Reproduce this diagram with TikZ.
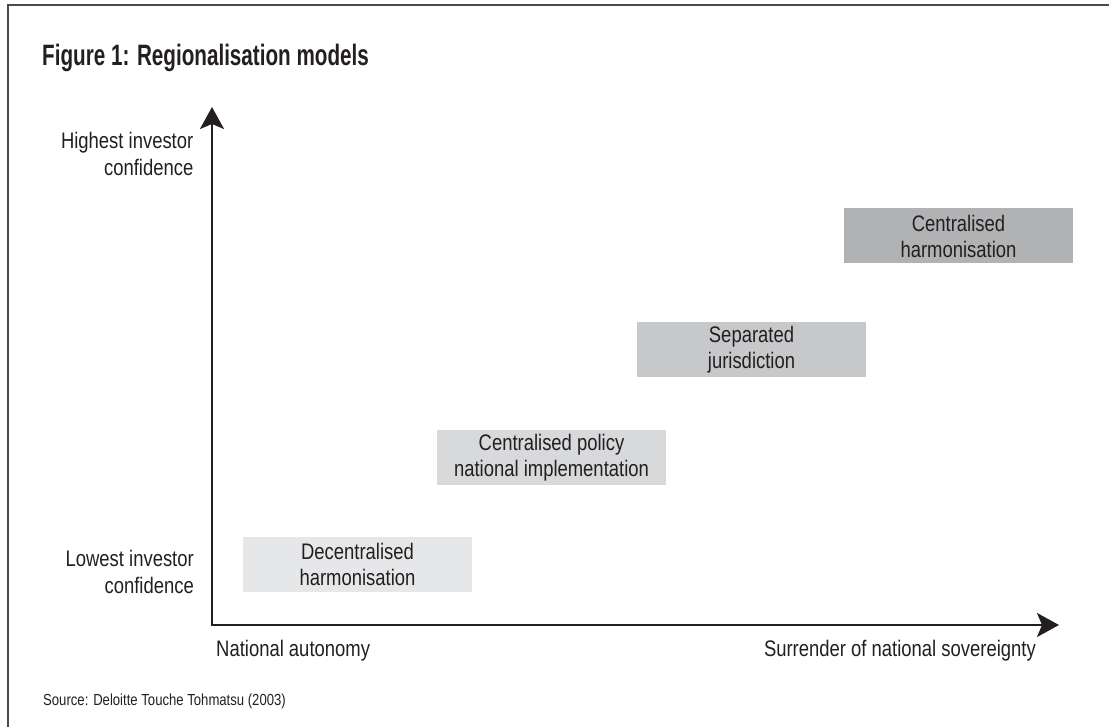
\documentclass[tikz,border=0pt]{standalone}
\usepackage{fontspec}
\setmainfont{Liberation Sans}[FakeStretch=0.82]
\newfontfamily\titlefont{Liberation Sans}[FakeStretch=0.70]
\usetikzlibrary{arrows.meta}
\definecolor{ink}{HTML}{231F20}
\definecolor{rule}{HTML}{4A4A4A}
\definecolor{shadeA}{HTML}{E6E7E8}
\definecolor{shadeB}{HTML}{D8D9DB}
\definecolor{shadeC}{HTML}{C7C8CA}
\definecolor{shadeD}{HTML}{B1B2B4}
\tikzset{
  model/.style={minimum width=229pt, minimum height=55pt, inner sep=0pt,
    align=center, text=ink, font=\fontsize{22.5}{26}\selectfont},
  axislabel/.style={inner sep=0pt, text=ink, font=\fontsize{22.5}{27}\selectfont},
}
\begin{document}
\begin{tikzpicture}[x=1pt,y=-1pt]
  \useasboundingbox (0,0) rectangle (1109,727);
  \draw[rule,line width=2pt] (8,727) -- (8,5.5) -- (1109,5.5);
  \node[anchor=base west,inner sep=0pt,text=ink,font=\titlefont\bfseries\fontsize{29.5}{32}\selectfont]
    (title) at (42,66) {Figure 1: Regionalisation models};
  % axes
  \coordinate (origin) at (212,625);
  \coordinate (ytip) at (212,107);
  \coordinate (xtip) at (1059,625);
  \draw[ink,line width=2pt,line join=miter,
    {Stealth[length=22pt,width=24pt,inset=5pt]}-{Stealth[length=22pt,width=24pt,inset=5pt]}]
    (ytip) -- (origin) -- (xtip);
  \node[axislabel,align=right,anchor=base east] (high) at (193.5,176) {Highest investor\\confidence};
  \node[axislabel,align=right,anchor=base east] (low) at (194,593) {Lowest investor\\confidence};
  \node[axislabel,anchor=base west] (auto) at (216,656) {National autonomy};
  \node[axislabel,anchor=base east] (sover) at (1036,656) {Surrender of national sovereignty};
  % models
  \node[model,fill=shadeA] (decent) at (357.5,564.5) {Decentralised\\harmonisation};
  \node[model,fill=shadeB] (policy) at (551.5,457.5) {Centralised policy\\national implementation};
  \node[model,fill=shadeC] (separ) at (751.5,349.5) {Separated\\jurisdiction};
  \node[model,fill=shadeD] (central) at (958.5,236) {Centralised\\harmonisation};
  \node[anchor=base west,inner sep=0pt,text=ink,font=\fontsize{16}{18}\selectfont]
    (source) at (43,705) {Source: Deloitte Touche Tohmatsu (2003)};
\end{tikzpicture}
\end{document}
